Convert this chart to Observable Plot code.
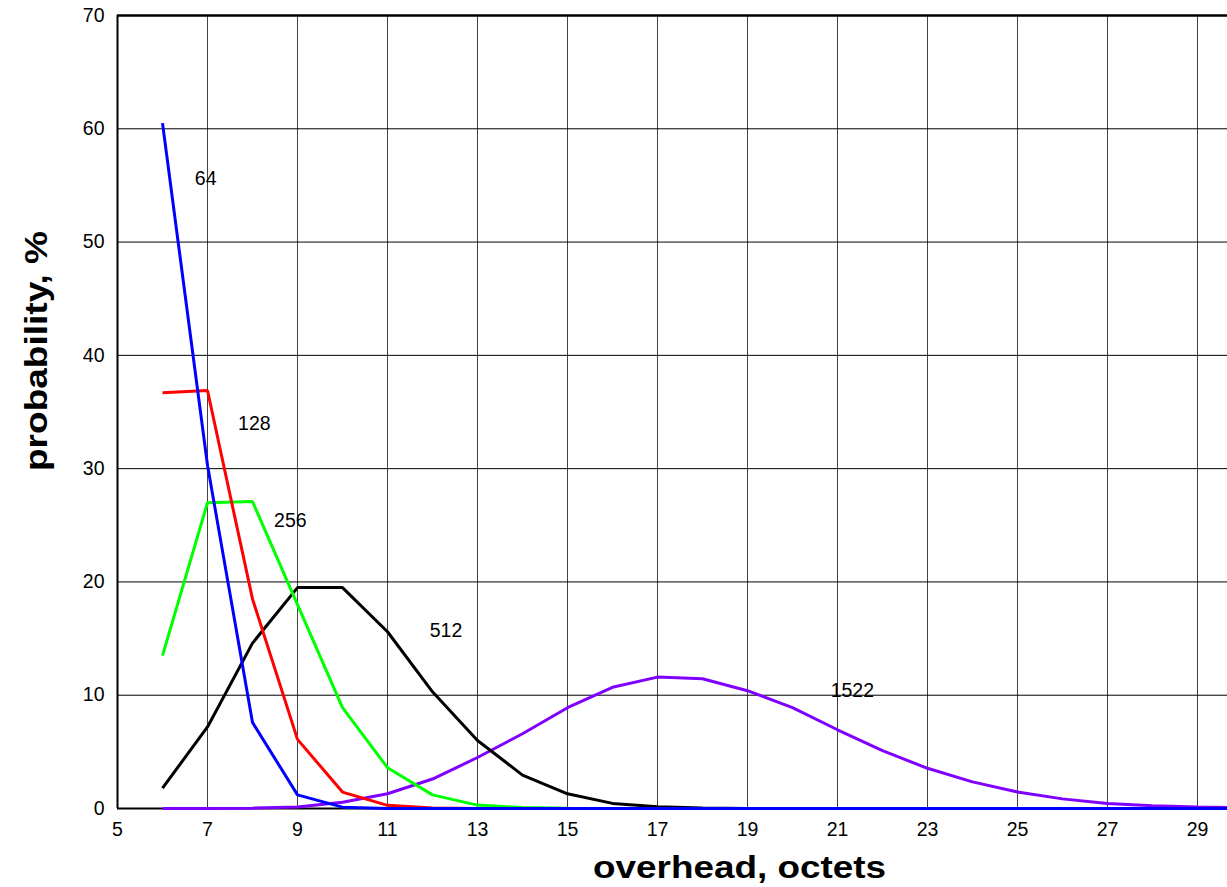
<!DOCTYPE html>
<html>
<head>
<meta charset="utf-8">
<script src="https://cdn.jsdelivr.net/npm/d3@7"></script>
<script src="https://cdn.jsdelivr.net/npm/@observablehq/plot@0.6"></script>
<style>
  html, body { margin: 0; padding: 0; background: #fff; }
  #chart svg { display: block; }
</style>
</head>
<body>
<div id="chart"></div>
<script>
// overhead, octets (x values for every series)
const overhead = [6,7,8,9,10,11,12,13,14,15,16,17,18,19,20,21,22,23,24,25,26,27,28,29,30];

// probability, % for each frame size
const p64   = [60.5,30.3,7.6,1.2,0.12,0.01,0,0,0,0,0,0,0,0,0,0,0,0,0,0,0,0,0,0,0];
const p128  = [36.7,36.9,18.5,6.1,1.45,0.28,0.05,0.01,0,0,0,0,0,0,0,0,0,0,0,0,0,0,0,0,0];
const p256  = [13.5,27.0,27.1,18.0,8.9,3.6,1.2,0.3,0.08,0.02,0,0,0,0,0,0,0,0,0,0,0,0,0,0,0];
const p512  = [1.8,7.2,14.6,19.5,19.5,15.6,10.3,6.0,2.95,1.3,0.45,0.15,0.05,0.01,0,0,0,0,0,0,0,0,0,0,0];
const p1522 = [0,0.01,0.03,0.13,0.55,1.3,2.6,4.5,6.6,8.9,10.7,11.6,11.45,10.4,8.9,6.95,5.1,3.55,2.35,1.45,0.85,0.45,0.25,0.13,0.07];

const seriesNames  = ["1522","512","256","128","64"];
const seriesValues = [p1522, p512, p256, p128, p64];
const seriesColors = ["#8000ff", "#000000", "#00ff00", "#ff0000", "#0000ff"];

// in-chart labels
const labelText = ["64","128","256","512","1522"];
const labelX    = [6.96, 8.04, 8.84, 12.3, 21.33];
const labelY    = [55.6, 34.0, 25.4, 15.7, 10.4];

const xTicks = [5,7,9,11,13,15,17,19,21,23,25,27,29];
const yTicks = [0,10,20,30,40,50,60,70];

const xTitle = "overhead, octets";
const yTitle = "probability, %";

const lineMarks = seriesValues.map((vals, k) =>
  Plot.line(overhead.map((x, i) => ({x, y: vals[i]})), {
    x: "x", y: "y", stroke: seriesColors[k], strokeWidth: 3,
    strokeLinejoin: "miter", strokeLinecap: "butt"
  })
);

const labels = labelText.map((t, i) => ({t, x: labelX[i], y: labelY[i]}));

const chart = Plot.plot({
  width: 1227,
  height: 887,
  marginLeft: 117,
  marginRight: 0,
  marginTop: 15,
  marginBottom: 79,
  x: {domain: [5, 29.667]},
  y: {domain: [0, 70]},
  style: {fontFamily: "'Liberation Sans', Arial, sans-serif", background: "#fff", color: "#000", overflow: "hidden"},
  marks: [
    Plot.gridX(xTicks.slice(1), {stroke: "#000", strokeOpacity: 0.75, strokeWidth: 1}),
    Plot.gridY(yTicks.slice(1, -1), {stroke: "#000", strokeOpacity: 1, strokeWidth: 1}),
    Plot.axisX(xTicks, {tickSize: 0, tickPadding: 14, fontSize: 19.5, label: null}),
    Plot.axisY(yTicks, {tickSize: 0, tickPadding: 13, fontSize: 19.5, label: null}),
    Plot.ruleY([0], {stroke: "#000", strokeWidth: 2}),
    Plot.ruleY([70], {stroke: "#000", strokeWidth: 2.5}),
    Plot.ruleX([5], {stroke: "#000", strokeWidth: 2}),
    ...lineMarks,
    Plot.text(labels, {x: "x", y: "y", text: "t", fontSize: 19.5, fill: "#000"}),
    Plot.text([xTitle], {frameAnchor: "bottom", textAnchor: "middle", lineAnchor: "middle", dx: 67, dy: 59, fontSize: 32, fontWeight: "bold", fill: "#000"}),
    Plot.text([yTitle], {frameAnchor: "left", textAnchor: "middle", lineAnchor: "middle", rotate: -90, dx: -81, dy: -61, fontSize: 32, fontWeight: "bold", fill: "#000"})
  ]
});

// stretch axis titles horizontally like the reference
d3.select(chart).selectAll("text").each(function() {
  const t = this.textContent;
  if (t === xTitle) { this.setAttribute("textLength", 293); this.setAttribute("lengthAdjust", "spacingAndGlyphs"); }
  if (t === yTitle) { this.setAttribute("textLength", 240); this.setAttribute("lengthAdjust", "spacingAndGlyphs"); }
});

document.getElementById("chart").appendChild(chart);
</script>
</body>
</html>
